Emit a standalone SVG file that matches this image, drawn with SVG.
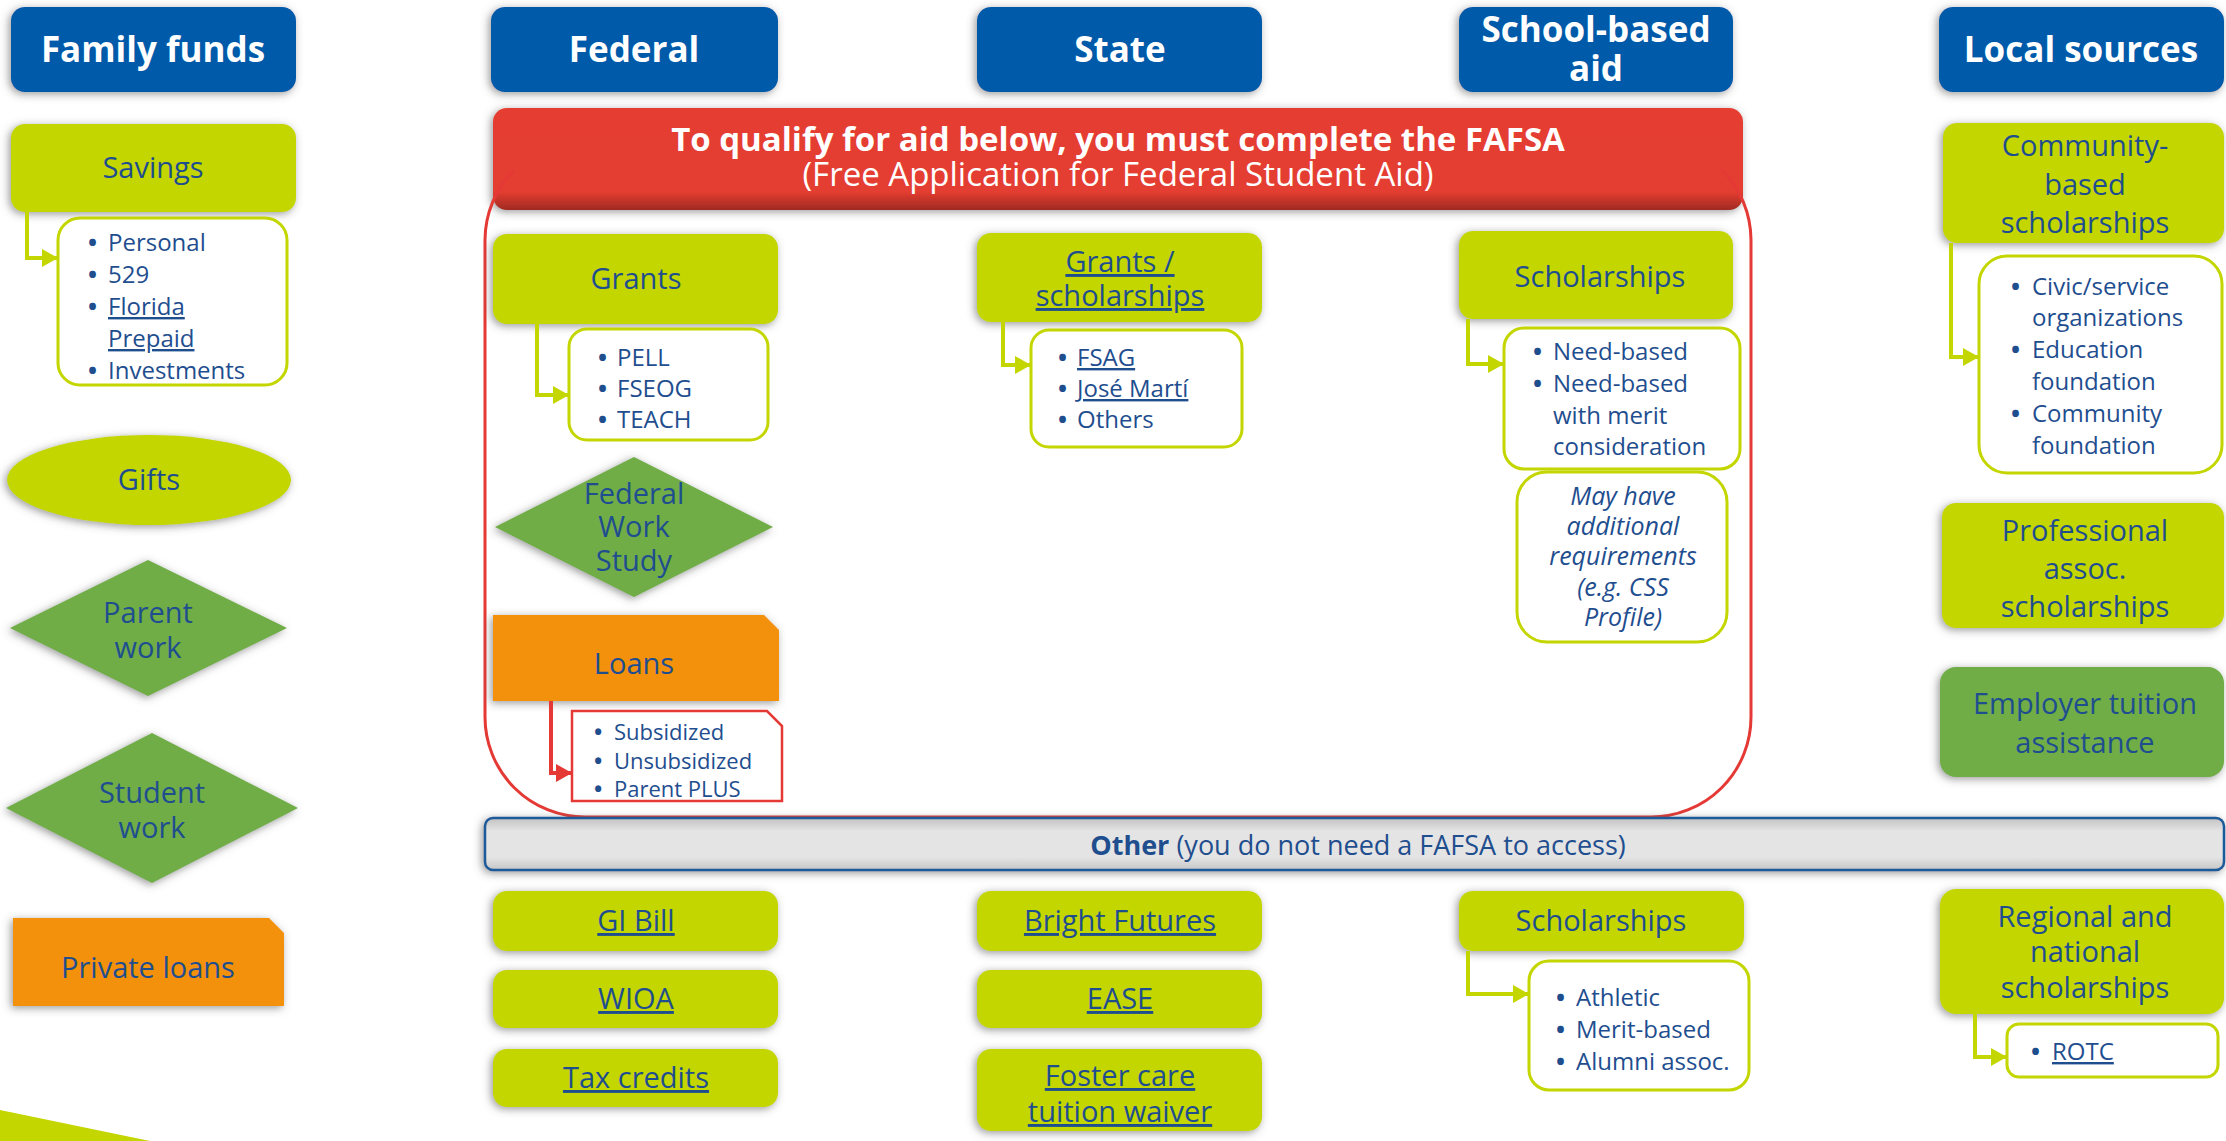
<svg xmlns="http://www.w3.org/2000/svg" width="2226" height="1141" viewBox="0 0 2226 1141">
<defs>
<filter id="sh" x="-20%" y="-30%" width="140%" height="160%">
<feDropShadow dx="-2" dy="2" stdDeviation="4" flood-color="#555" flood-opacity="0.6"/>
</filter>
<linearGradient id="redg" x1="0" y1="0" x2="0" y2="1">
<stop offset="0" stop-color="#E53E30"/>
<stop offset="0.82" stop-color="#E43D30"/>
<stop offset="1" stop-color="#A02A22"/>
</linearGradient>
<linearGradient id="grayg" x1="0" y1="0" x2="0" y2="1">
<stop offset="0" stop-color="#C2C2C2"/>
<stop offset="0.25" stop-color="#E4E4E4"/>
<stop offset="0.75" stop-color="#E4E4E4"/>
<stop offset="1" stop-color="#C6C6C6"/>
</linearGradient>
<marker id="al" markerUnits="userSpaceOnUse" markerWidth="16" markerHeight="18" refX="16" refY="9" orient="auto">
<path d="M0,0 L16,9 L0,18 Z" fill="#C4D600"/>
</marker>
<marker id="ar" markerUnits="userSpaceOnUse" markerWidth="16" markerHeight="18" refX="16" refY="9" orient="auto">
<path d="M0,0 L16,9 L0,18 Z" fill="#E53935"/>
</marker>
<style>
.hdr{fill:#005AAA;filter:url(#sh)}
.hdrt{font-family:"Open Sans","Noto Sans",sans-serif;font-weight:bold;font-size:35px;fill:#fff;text-anchor:middle}
.lime{fill:#C4D600;filter:url(#sh)}
.green{fill:#70AD47;filter:url(#sh)}
.orange{fill:#F39110;filter:url(#sh)}
.t{font-family:"Open Sans","Noto Sans",sans-serif;font-size:29px;fill:#1F4E8F;text-anchor:middle}
.li{font-family:"Open Sans","Noto Sans",sans-serif;font-size:24px;fill:#1F4E8F}
.sm{font-size:22px}
.b{font-weight:bold}
.lst{fill:#fff;stroke:#C4D600;stroke-width:3}
.u{text-decoration:underline}
.cl{fill:none;stroke:#C4D600;stroke-width:4}
.cr{fill:none;stroke:#E53935;stroke-width:4}
</style>
</defs>
<rect width="2226" height="1141" fill="#fff"/>

<g id="hdr-family"><rect class="hdr" x="11" y="7" width="285" height="85" rx="14"/><text class="hdrt" x="153" y="62">Family funds</text></g>
<g id="hdr-federal"><rect class="hdr" x="491" y="7" width="287" height="85" rx="14"/><text class="hdrt" x="634" y="62">Federal</text></g>
<g id="hdr-state"><rect class="hdr" x="977" y="7" width="285" height="85" rx="14"/><text class="hdrt" x="1120" y="62">State</text></g>
<g id="hdr-school"><rect class="hdr" x="1459" y="7" width="274" height="85" rx="14"/><text class="hdrt" x="1596" y="42">School-based</text><text class="hdrt" x="1596" y="81">aid</text></g>
<g id="hdr-local"><rect class="hdr" x="1939" y="7" width="285" height="85" rx="14"/><text class="hdrt" x="2081" y="62">Local sources</text></g>

<g id="fafsa-banner">
<rect x="493" y="108" width="1250" height="102" rx="14" fill="url(#redg)" filter="url(#sh)"/>
<text x="1118" y="151" text-anchor="middle" font-family="Open Sans, Noto Sans, sans-serif" font-size="33" font-weight="bold" fill="#fff">To qualify for aid below, you must complete the FAFSA</text>
<text x="1118" y="186" text-anchor="middle" font-family="Open Sans, Noto Sans, sans-serif" font-size="33" fill="#fff">(Free Application for Federal Student Aid)</text>
</g>
<g id="fafsa-outline">
<path d="M514,170 A100,100 0 0 0 485,240 L485,717 A100,100 0 0 0 585,817 L1651,817 A100,100 0 0 0 1751,717 L1751,240 A100,100 0 0 0 1722,170" fill="none" stroke="#E53935" stroke-width="3"/>
</g>

<!-- Family funds column -->
<g id="savings"><rect class="lime" x="11" y="124" width="285" height="88" rx="14"/><text class="t" x="153" y="178">Savings</text></g>
<g id="savings-list">
<rect class="lst" x="58" y="218" width="229" height="167" rx="22"/>
<text class="li"><tspan class="b" x="88" y="251">•</tspan><tspan x="108" y="251">Personal</tspan></text>
<text class="li"><tspan class="b" x="88" y="283">•</tspan><tspan x="108" y="283">529</tspan></text>
<text class="li"><tspan class="b" x="88" y="315">•</tspan><tspan class="u" x="108" y="315">Florida</tspan><tspan class="u" x="108" y="347">Prepaid</tspan></text>
<text class="li"><tspan class="b" x="88" y="379">•</tspan><tspan x="108" y="379">Investments</tspan></text>
</g>
<g id="gifts"><ellipse class="lime" cx="149" cy="480" rx="142" ry="45"/><text class="t" x="149" y="490">Gifts</text></g>
<g id="parent-work"><polygon class="green" points="148,560 287,628 148,696 10,628"/><text class="t" x="148" y="623">Parent</text><text class="t" x="148" y="658">work</text></g>
<g id="student-work"><polygon class="green" points="152,733 298,808 152,883 6,808"/><text class="t" x="152" y="803">Student</text><text class="t" x="152" y="838">work</text></g>
<g id="private-loans"><path class="orange" d="M13,918 H269 L284,933 V1006 H13 Z"/><text class="t" x="148" y="978">Private loans</text></g>
<polygon points="0,1110 150,1141 0,1141" fill="#C4D600"/>

<!-- Federal column -->
<g id="grants"><rect class="lime" x="493" y="234" width="285" height="90" rx="14"/><text class="t" x="636" y="289">Grants</text></g>
<g id="grants-list">
<rect class="lst" x="569" y="329" width="199" height="111" rx="18"/>
<text class="li"><tspan class="b" x="598" y="366">•</tspan><tspan x="617" y="366">PELL</tspan></text>
<text class="li"><tspan class="b" x="598" y="397">•</tspan><tspan x="617" y="397">FSEOG</tspan></text>
<text class="li"><tspan class="b" x="598" y="428">•</tspan><tspan x="617" y="428">TEACH</tspan></text>
</g>
<g id="fws"><polygon class="green" points="634,457 773,527 634,597 495,527"/><text class="t" x="634" y="504">Federal</text><text class="t" x="634" y="537">Work</text><text class="t" x="634" y="571">Study</text></g>
<g id="loans"><path class="orange" d="M493,615 H764 L779,630 V701 H493 Z"/><text class="t" x="634" y="674">Loans</text></g>
<g id="loans-list">
<path d="M572,711 H767 L782,726 V801 H572 Z" fill="#fff" stroke="#E53935" stroke-width="2.5"/>
<text class="li sm"><tspan class="b" x="594" y="740">•</tspan><tspan x="614" y="740">Subsidized</tspan></text>
<text class="li sm"><tspan class="b" x="594" y="769">•</tspan><tspan x="614" y="769">Unsubsidized</tspan></text>
<text class="li sm"><tspan class="b" x="594" y="797">•</tspan><tspan x="614" y="797">Parent PLUS</tspan></text>
</g>

<!-- State column -->
<g id="state-grants"><rect class="lime" x="977" y="233" width="285" height="89" rx="14"/><text class="t u" x="1120" y="272">Grants /</text><text class="t u" x="1120" y="306">scholarships</text></g>
<g id="state-list">
<rect class="lst" x="1031" y="330" width="211" height="117" rx="18"/>
<text class="li"><tspan class="b" x="1058" y="366">•</tspan><tspan class="u" x="1077" y="366">FSAG</tspan></text>
<text class="li"><tspan class="b" x="1058" y="397">•</tspan><tspan class="u" x="1077" y="397">José Martí</tspan></text>
<text class="li"><tspan class="b" x="1058" y="428">•</tspan><tspan x="1077" y="428">Others</tspan></text>
</g>

<!-- School-based column -->
<g id="school-scholarships"><rect class="lime" x="1459" y="231" width="274" height="88" rx="14"/><text class="t" x="1600" y="287">Scholarships</text></g>
<g id="school-list">
<rect class="lst" x="1504" y="328" width="236" height="141" rx="20"/>
<text class="li"><tspan class="b" x="1533" y="360">•</tspan><tspan x="1553" y="360">Need-based</tspan></text>
<text class="li"><tspan class="b" x="1533" y="392">•</tspan><tspan x="1553" y="392">Need-based</tspan><tspan x="1553" y="424">with merit</tspan><tspan x="1553" y="455">consideration</tspan></text>
</g>
<g id="school-note">
<rect class="lst" x="1517" y="472" width="210" height="170" rx="30"/>
<g font-family="Open Sans, Noto Sans, sans-serif" font-size="25" font-style="italic" fill="#1F4E8F" text-anchor="middle">
<text x="1623" y="505">May have</text><text x="1623" y="535">additional</text><text x="1623" y="565">requirements</text><text x="1623" y="596">(e.g. CSS</text><text x="1623" y="626">Profile)</text>
</g>
</g>

<!-- Local sources column -->
<g id="community"><rect class="lime" x="1943" y="123" width="281" height="120" rx="14"/><text class="t" x="2085" y="156">Community-</text><text class="t" x="2085" y="195">based</text><text class="t" x="2085" y="233">scholarships</text></g>
<g id="community-list">
<rect class="lst" x="1979" y="256" width="243" height="217" rx="28"/>
<text class="li"><tspan class="b" x="2011" y="295">•</tspan><tspan x="2032" y="295">Civic/service</tspan><tspan x="2032" y="326">organizations</tspan></text>
<text class="li"><tspan class="b" x="2011" y="358">•</tspan><tspan x="2032" y="358">Education</tspan><tspan x="2032" y="390">foundation</tspan></text>
<text class="li"><tspan class="b" x="2011" y="422">•</tspan><tspan x="2032" y="422">Community</tspan><tspan x="2032" y="454">foundation</tspan></text>
</g>
<g id="professional"><rect class="lime" x="1942" y="503" width="282" height="125" rx="14"/><text class="t" x="2085" y="541">Professional</text><text class="t" x="2085" y="579">assoc.</text><text class="t" x="2085" y="617">scholarships</text></g>
<g id="employer"><rect class="green" x="1940" y="667" width="284" height="110" rx="16"/><text class="t" x="2085" y="714">Employer tuition</text><text class="t" x="2085" y="753">assistance</text></g>

<!-- Other bar -->
<g id="other-bar">
<rect x="485" y="818" width="1739" height="52" rx="8" fill="url(#grayg)" stroke="#1F5A9A" stroke-width="2.5" filter="url(#sh)"/>
<text x="1358" y="855" text-anchor="middle" font-family="Open Sans, Noto Sans, sans-serif" font-size="27" fill="#1F4E8F"><tspan font-weight="bold">Other</tspan> (you do not need a FAFSA to access)</text>
</g>

<!-- Bottom row -->
<g id="gi-bill"><rect class="lime" x="493" y="891" width="285" height="60" rx="14"/><text class="t u" x="636" y="931">GI Bill</text></g>
<g id="wioa"><rect class="lime" x="493" y="970" width="285" height="58" rx="14"/><text class="t u" x="636" y="1009">WIOA</text></g>
<g id="tax-credits"><rect class="lime" x="493" y="1049" width="285" height="58" rx="14"/><text class="t u" x="636" y="1088">Tax credits</text></g>
<g id="bright-futures"><rect class="lime" x="977" y="891" width="285" height="60" rx="14"/><text class="t u" x="1120" y="931">Bright Futures</text></g>
<g id="ease"><rect class="lime" x="977" y="970" width="285" height="58" rx="14"/><text class="t u" x="1120" y="1009">EASE</text></g>
<g id="foster-care"><rect class="lime" x="977" y="1049" width="285" height="82" rx="14"/><text class="t u" x="1120" y="1086">Foster care</text><text class="t u" x="1120" y="1122">tuition waiver</text></g>
<g id="other-scholarships"><rect class="lime" x="1459" y="891" width="285" height="60" rx="14"/><text class="t" x="1601" y="931">Scholarships</text></g>
<g id="other-list">
<rect class="lst" x="1529" y="961" width="220" height="129" rx="20"/>
<text class="li"><tspan class="b" x="1556" y="1006">•</tspan><tspan x="1576" y="1006">Athletic</tspan></text>
<text class="li"><tspan class="b" x="1556" y="1038">•</tspan><tspan x="1576" y="1038">Merit-based</tspan></text>
<text class="li"><tspan class="b" x="1556" y="1070">•</tspan><tspan x="1576" y="1070">Alumni assoc.</tspan></text>
</g>
<g id="regional"><rect class="lime" x="1940" y="889" width="284" height="125" rx="16"/><text class="t" x="2085" y="927">Regional and</text><text class="t" x="2085" y="962">national</text><text class="t" x="2085" y="998">scholarships</text></g>
<g id="rotc-list">
<rect class="lst" x="2007" y="1024" width="211" height="53" rx="12"/>
<text class="li"><tspan class="b" x="2031" y="1060">•</tspan><tspan class="u" x="2052" y="1060">ROTC</tspan></text>
</g>

<g id="connectors">
<path class="cl" d="M27,212 V258 H58" marker-end="url(#al)"/>
<path class="cl" d="M537,324 V395 H569" marker-end="url(#al)"/>
<path class="cr" d="M551,701 V773 H572" marker-end="url(#ar)"/>
<path class="cl" d="M1003,322 V365 H1031" marker-end="url(#al)"/>
<path class="cl" d="M1468,319 V364 H1504" marker-end="url(#al)"/>
<path class="cl" d="M1951,243 V357 H1979" marker-end="url(#al)"/>
<path class="cl" d="M1468,951 V994 H1529" marker-end="url(#al)"/>
<path class="cl" d="M1975,1014 V1057 H2007" marker-end="url(#al)"/>
</g>
</svg>
